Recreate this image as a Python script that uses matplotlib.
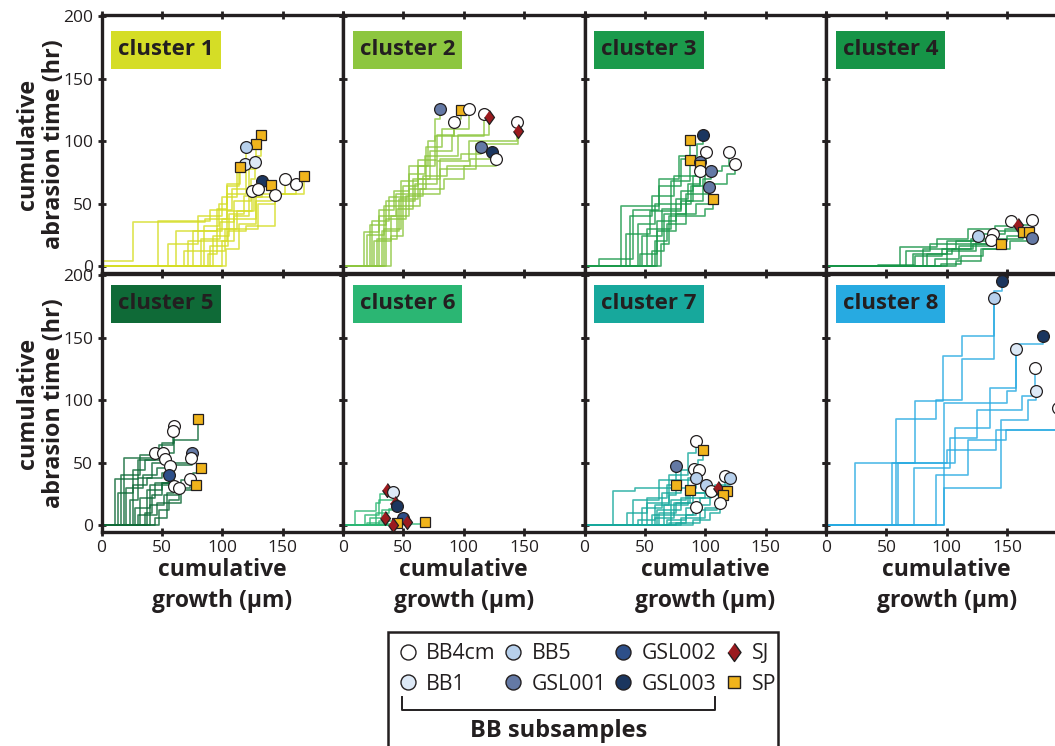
import matplotlib.pyplot as plt
from matplotlib.lines import Line2D
from matplotlib.patches import Rectangle

plt.rcParams['font.family'] = ['Open Sans', 'DejaVu Sans']

# ---- samples / styles ----
samples = ['BB4cm', 'BB1', 'BB5', 'GSL001', 'GSL002', 'GSL003', 'SJ', 'SP']
sample_fill = {'BB4cm': '#ffffff', 'BB1': '#dde9f6', 'BB5': '#b7d0ec',
               'GSL001': '#6479a5', 'GSL002': '#2d4f89', 'GSL003': '#1b365f',
               'SJ': '#9b1b1f', 'SP': '#f0b41c'}
diamond = [(0, 1), (0.72, 0), (0, -1), (-0.72, 0)]
sample_marker = {'BB4cm': 'o', 'BB1': 'o', 'BB5': 'o', 'GSL001': 'o', 'GSL002': 'o',
                 'GSL003': 'o', 'SJ': diamond, 'SP': 's'}

cluster_names = ['cluster 1', 'cluster 2', 'cluster 3', 'cluster 4',
                 'cluster 5', 'cluster 6', 'cluster 7', 'cluster 8']
cluster_colors = ['#d5dd26', '#8dc63f', '#1b9a4b', '#169447',
                  '#0f6a37', '#2bb673', '#17a89c', '#27aae1']

# ---- step traces: cumulative growth (um) / cumulative abrasion time (hr) ----
c1_growth = [[0, 0, 26, 86, 104, 120, 128, 132], [0, 47, 90, 108, 122, 128],
             [0, 55, 80, 100, 112, 120], [0, 76, 96, 104, 114, 119],
             [0, 82, 98, 110, 124, 127], [0, 85, 97, 104, 115],
             [0, 100, 110, 122, 133], [0, 103, 114, 128, 140],
             [0, 88, 96, 112, 125], [0, 92, 106, 118, 130],
             [0, 90, 105, 120, 144], [0, 62, 100, 128, 140, 152],
             [0, 72, 104, 126, 161], [0, 68, 102, 130, 144, 168]]
c1_time = [[0, 4, 35, 38, 58, 78, 88, 105], [0, 36, 45, 62, 80, 98],
           [0, 18, 40, 55, 76, 95], [0, 28, 46, 64, 78, 82],
           [0, 22, 35, 52, 70, 83], [0, 32, 50, 66, 79],
           [0, 20, 40, 55, 68], [0, 14, 34, 52, 65],
           [0, 10, 30, 44, 60], [0, 24, 42, 56, 62],
           [0, 16, 28, 32, 57], [0, 28, 38, 55, 58, 70],
           [0, 20, 44, 58, 66], [0, 12, 30, 50, 58, 72]]
c1_sample = ['SP', 'SP', 'BB5', 'BB1', 'BB1', 'SP', 'GSL003', 'SP',
             'BB4cm', 'BB4cm', 'BB4cm', 'BB4cm', 'BB4cm', 'SP']

c2_growth = [[0, 17, 30, 42, 55, 70, 76, 80], [0, 22, 36, 48, 62, 78, 92, 98],
             [0, 26, 40, 55, 69, 82, 104], [0, 20, 34, 50, 62, 76, 92],
             [0, 30, 44, 58, 72, 90, 117], [0, 24, 38, 55, 68, 95, 121],
             [0, 34, 48, 60, 78, 104, 144], [0, 28, 45, 58, 80, 110, 145],
             [0, 32, 46, 62, 80, 98, 114], [0, 36, 52, 66, 86, 105, 123],
             [0, 40, 50, 64, 84, 100, 127]]
c2_time = [[0, 27, 45, 60, 80, 100, 118, 126], [0, 33, 52, 68, 85, 105, 118, 125],
           [0, 20, 40, 62, 95, 110, 126], [0, 25, 48, 64, 80, 104, 115],
           [0, 40, 58, 70, 92, 104, 122], [0, 36, 55, 74, 88, 105, 119],
           [0, 30, 52, 66, 84, 100, 115], [0, 22, 46, 58, 78, 98, 108],
           [0, 28, 54, 70, 86, 90, 95], [0, 38, 56, 72, 80, 86, 91],
           [0, 24, 48, 62, 70, 80, 86]]
c2_sample = ['GSL001', 'SP', 'BB4cm', 'BB4cm', 'BB4cm', 'SJ', 'BB4cm', 'SJ',
             'GSL001', 'GSL003', 'BB4cm']

c3_growth = [[0, 30, 62, 78, 93, 98.5], [0, 12, 40, 62, 80, 87],
             [0, 38, 56, 74, 92, 101], [0, 52, 72, 88, 100, 114, 119.5],
             [0, 56, 66, 84, 104, 118, 124.5], [0, 44, 58, 72, 87],
             [0, 48, 64, 80, 90, 96], [0, 60, 76, 86, 96],
             [0, 63, 70, 84, 90, 96], [0, 34, 54, 80, 98, 104.6],
             [0, 46, 60, 76, 92, 103.5], [0, 58, 68, 84, 100, 106.5]]
c3_time = [[0, 48, 70, 88, 98, 105], [0, 6, 45, 64, 86, 101],
           [0, 40, 56, 72, 84, 91], [0, 30, 50, 64, 76, 80, 91],
           [0, 12, 42, 58, 66, 74, 82], [0, 34, 50, 68, 85],
           [0, 24, 46, 60, 72, 83], [0, 36, 54, 66, 81],
           [0, 18, 40, 52, 64, 76.5], [0, 26, 44, 52, 70, 76.5],
           [0, 10, 28, 42, 50, 63], [0, 20, 34, 40, 46, 54]]
c3_sample = ['GSL003', 'SP', 'BB4cm', 'BB4cm', 'BB4cm', 'SP', 'GSL001', 'SP',
             'BB4cm', 'GSL001', 'GSL001', 'SP']

c4_growth = [[0, 61, 92, 118, 140, 153], [0, 72, 100, 126, 148, 159],
             [0, 80, 108, 135, 160, 171], [0, 90, 110, 138, 163],
             [0, 100, 124, 150, 168.5], [0, 108, 128, 152, 171],
             [0, 66, 86, 108, 126], [0, 43, 74, 96, 120, 138],
             [0, 84, 104, 122, 137], [0, 95, 112, 130, 145]]
c4_time = [[0, 15, 22, 30, 32, 36], [0, 10, 20, 26, 30, 33],
           [0, 14, 18, 28, 33, 37], [0, 6, 16, 22, 27],
           [0, 12, 20, 24, 27.6], [0, 4, 14, 20, 22.6],
           [0, 12, 18, 20, 24.4], [0, 1, 8, 14, 22, 25.5],
           [0, 10, 14, 18, 21], [0, 2, 8, 14, 18]]
c4_sample = ['BB4cm', 'SJ', 'BB4cm', 'SP', 'SP', 'GSL001', 'BB5', 'BB4cm',
             'BB4cm', 'SP']

c5_growth = [[0, 19, 45, 60, 80], [0, 11, 30, 50, 60], [0, 16, 32, 48, 59],
             [0, 14, 26, 36, 44], [0, 24, 30, 42, 51], [0, 20, 34, 46, 53],
             [0, 28, 40, 56, 75], [0, 32, 44, 60, 74], [0, 26, 38, 50, 57],
             [0, 36, 42, 50, 56], [0, 38, 50, 66, 76, 82], [0, 40, 52, 64, 73],
             [0, 44, 54, 66, 78], [0, 30, 46, 54, 60], [0, 48, 56, 64]]
c5_time = [[0, 54, 58, 68, 85], [0, 37, 52, 66, 79], [0, 40, 56, 64, 75],
           [0, 26, 44, 52, 58], [0, 20, 38, 50, 58], [0, 30, 40, 46, 52.6],
           [0, 14, 32, 48, 58], [0, 22, 34, 50, 54], [0, 32, 38, 42, 47],
           [0, 10, 24, 34, 40], [0, 28, 34, 36, 42, 46], [0, 16, 24, 30, 37],
           [0, 6, 18, 28, 32], [0, 8, 18, 26, 31], [0, 12, 20, 29.5]]
c5_sample = ['SP', 'BB4cm', 'BB4cm', 'BB4cm', 'BB4cm', 'BB4cm', 'GSL001',
             'BB4cm', 'BB4cm', 'GSL002', 'SP', 'BB4cm', 'SP', 'BB4cm', 'BB4cm']

c6_growth = [[0, 10, 27, 31, 36.5], [0, 18, 30, 41.5], [0, 22, 32, 43],
             [0, 27, 38, 45], [0, 20, 34.6], [0, 30, 42, 50], [0, 40, 52.6],
             [0, 36, 44.8], [0, 25, 41], [0, 50, 68]]
c6_time = [[0, 11, 18, 25, 28], [0, 8, 20, 26.5], [0, 6, 12, 18],
           [0, 10, 13, 15], [0, 2, 6], [0, 3, 5, 6], [0, 1, 2.7],
           [0, 1, 2], [0, 0, 0.5], [0, 1, 2.7]]
c6_sample = ['SJ', 'BB1', 'SJ', 'GSL003', 'SJ', 'GSL002', 'SJ', 'SP', 'SJ', 'SP']

c7_growth = [[0, 24, 42, 70, 86, 92], [0, 40, 62, 80, 94, 98.5],
             [0, 35, 52, 68, 76], [0, 48, 64, 80, 91], [0, 52, 70, 86, 95],
             [0, 56, 72, 84, 92], [0, 60, 80, 100, 116], [0, 66, 86, 108, 120.6],
             [0, 58, 74, 90, 101], [0, 44, 58, 70, 75.5], [0, 62, 76, 87],
             [0, 68, 84, 96, 105], [0, 72, 90, 104, 110.6], [0, 76, 96, 110, 118],
             [0, 80, 100, 114.5], [0, 90, 104, 112], [0, 70, 84, 92]]
c7_time = [[0, 27, 30, 40, 58, 67], [0, 20, 36, 44, 52, 60],
           [0, 10, 22, 32, 47], [0, 14, 26, 36, 45], [0, 18, 30, 38, 44],
           [0, 8, 20, 30, 38], [0, 12, 22, 30, 39], [0, 16, 26, 32, 38],
           [0, 6, 18, 26, 32], [0, 4, 16, 24, 32], [0, 10, 18, 28],
           [0, 4, 14, 22, 27], [0, 8, 16, 24, 30], [0, 2, 12, 20, 27],
           [0, 6, 14, 24], [0, 4, 10, 18], [0, 2, 8, 14.6]]
c7_sample = ['BB4cm', 'SP', 'GSL001', 'BB4cm', 'BB4cm', 'BB5', 'BB4cm', 'BB5',
             'BB5', 'SP', 'SP', 'BB4cm', 'SJ', 'SP', 'SP', 'BB4cm', 'BB4cm']

c8_growth = [[0, 24, 74, 97, 113, 139], [0, 58, 91, 113, 139, 146],
             [0, 55, 107, 136, 157, 180], [0, 98, 150, 157],
             [0, 73, 103, 125, 162, 173], [0, 98, 145, 167, 174],
             [0, 91, 118, 149, 192], [0, 60, 100, 141, 230]]
c8_time = [[0, 50, 99, 135, 151, 182], [0, 85, 100, 133, 187, 195],
           [0, 50, 78, 110, 145, 151], [0, 98, 107, 141],
           [0, 46, 70, 92, 103, 126], [0, 30, 84, 100, 107],
           [0, 40, 68, 76, 94], [0, 50, 60, 76, 90]]
c8_sample = ['BB5', 'GSL003', 'GSL003', 'BB1', 'BB4cm', 'BB1', 'BB4cm', 'BB4cm']

all_growth = [c1_growth, c2_growth, c3_growth, c4_growth,
              c5_growth, c6_growth, c7_growth, c8_growth]
all_time = [c1_time, c2_time, c3_time, c4_time,
            c5_time, c6_time, c7_time, c8_time]
all_sample = [c1_sample, c2_sample, c3_sample, c4_sample,
              c5_sample, c6_sample, c7_sample, c8_sample]

W, H = 1055, 746
fig = plt.figure(figsize=(W / 100, H / 100), dpi=100)

col_left = [101.5, 343, 584.5, 826]
row_top = [15, 274]
ax_w, ax_h = 241.5, 258
box_y = [0.792, 0.811]

for i in range(8):
    r, c = divmod(i, 4)
    ax = fig.add_axes([col_left[c] / W, 1 - (row_top[r] + ax_h) / H, ax_w / W, ax_h / H])
    color = cluster_colors[i]
    for gx, ty in zip(all_growth[i], all_time[i]):
        ax.step(gx, ty, where='post', color=color, lw=1.2, alpha=0.8, zorder=2)
    for gx, ty, s in zip(all_growth[i], all_time[i], all_sample[i]):
        ms = 6.5 if s == 'SP' else (10 if s == 'SJ' else 8.5)
        ax.plot(gx[-1], ty[-1], ls='none', marker=sample_marker[s], ms=ms,
                mfc=sample_fill[s], mec='#231f20', mew=0.9, clip_on=False, zorder=5)

    ax.set_xlim(0, 200)
    ax.set_ylim(-5.5, 201)
    ax.set_xticks([0, 50, 100, 150, 200])
    ax.set_yticks([0, 50, 100, 150, 200])
    ax.tick_params(direction='inout', length=6, width=2, top=True, right=True,
                   labelsize=12.5, colors='#231f20', pad=3)
    for sp in ax.spines.values():
        sp.set_linewidth(2.4)
        sp.set_color('#231f20')
    if r == 1:
        ax.set_xticklabels(['0', '50', '100', '150', ''])
        ax.set_xlabel('cumulative\ngrowth (\u03bcm)', fontsize=16.5, fontweight='bold',
                      color='#231f20', linespacing=1.4)
        ax.xaxis.set_label_coords(0.5, -0.1)
    else:
        ax.set_xticklabels([])
    if c == 0:
        ax.set_ylabel('cumulative\nabrasion time (hr)', fontsize=16.8, fontweight='bold',
                      color='#231f20', linespacing=1.1)
        ax.yaxis.set_label_coords(-0.147, 0.5)
    else:
        ax.set_yticklabels([])

    ax.add_patch(Rectangle((0.041, box_y[r]), 0.452, 0.147, transform=ax.transAxes,
                           fc=color, ec='none', zorder=6))
    ax.text(0.267, box_y[r] + 0.0735, cluster_names[i], transform=ax.transAxes,
            ha='center', va='center', fontsize=16, fontweight='bold',
            color='#231f20', zorder=7)

# ---- legend ----
handles = []
for s in samples:
    ms = 8.5 if s == 'SP' else (13 if s == 'SJ' else 10.8)
    handles.append(Line2D([], [], ls='none', marker=sample_marker[s], ms=ms,
                          mfc=sample_fill[s], mec='#231f20', mew=1.0, label=s))
fig.legend(handles=handles, ncol=4, loc='upper left', frameon=False,
           bbox_to_anchor=(398 / W, 1 - 643 / H), borderpad=0, borderaxespad=0,
           handlelength=0.95, handletextpad=0.38, columnspacing=0.34,
           labelspacing=0.45, fontsize=15.3, labelcolor='#231f20')

fig.add_artist(Rectangle((388 / W, 1 - 770 / H), 390 / W, 138 / H,
                         transform=fig.transFigure, fc='none', ec='#231f20', lw=1.8))
fig.add_artist(Line2D(
    [402 / W, 402 / W, 715 / W, 715 / W],
    [1 - 697 / H, 1 - 710 / H, 1 - 710 / H, 1 - 697 / H],
    transform=fig.transFigure, color='#231f20', lw=1.4))
fig.text(559 / W, 1 - 731 / H, 'BB subsamples', ha='center', va='center',
         fontsize=17, fontweight='bold', color='#231f20')

fig.savefig('out.png', dpi=100)
